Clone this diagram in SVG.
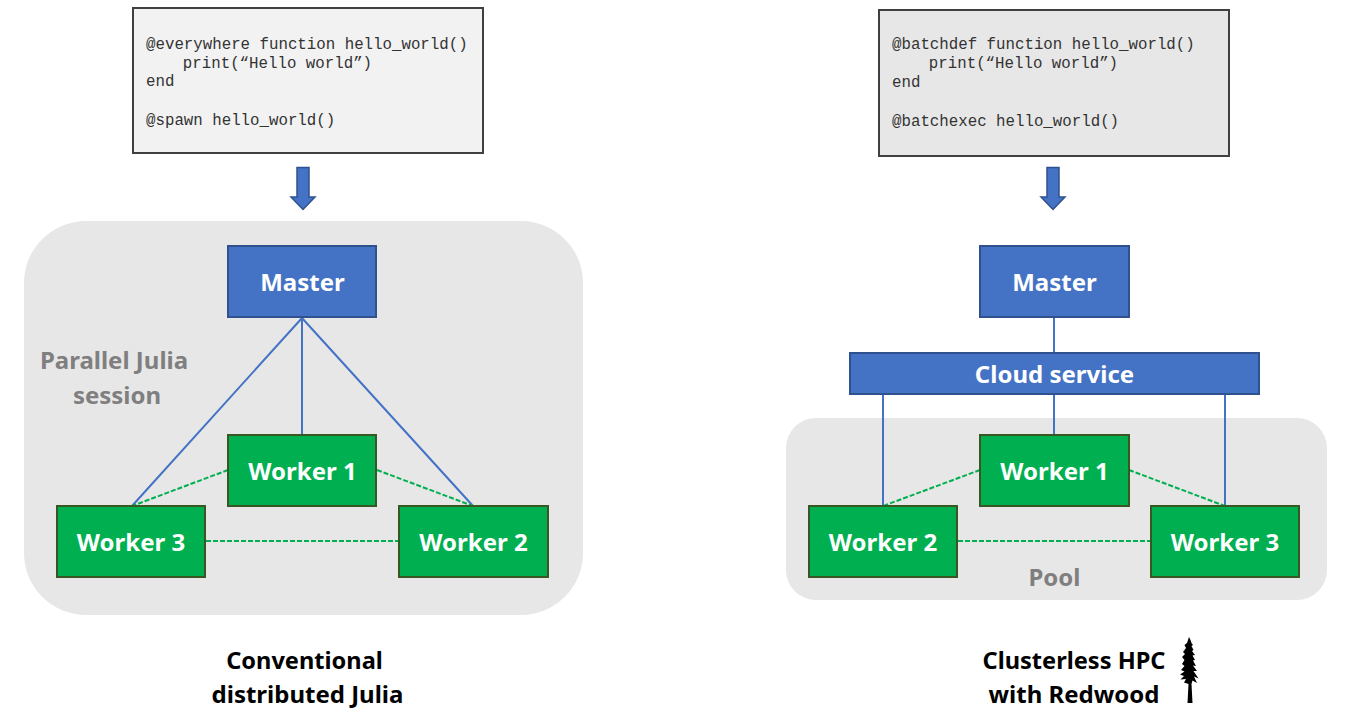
<svg xmlns="http://www.w3.org/2000/svg" width="1348" height="719" viewBox="0 0 1348 719">
<style>
.bg{fill:#e7e7e7}
.code{stroke:#404040;stroke-width:2}
.codetext{font-family:"Liberation Mono",monospace;font-size:15.77px;fill:#333;white-space:pre}
.master{fill:#4472c4;stroke:#2f528f;stroke-width:2}
.worker{fill:#00b050;stroke:#385723;stroke-width:2}
.lbl{font-family:"Noto Sans","Open Sans",sans-serif;font-weight:700;font-size:24px;fill:#fff;text-anchor:middle}
.grey{fill:#7f7f7f}
.cap{fill:#000;font-size:23.6px}
.cap2{fill:#000;font-size:24px}
.blue{stroke:#4472c4;stroke-width:2;fill:none}
.green{stroke:#00b050;stroke-width:2;stroke-dasharray:5 2;fill:none}
.arrow{fill:#4472c4;stroke:#2f528f;stroke-width:1.5}
</style>
<g id="backgrounds">
<rect id="session-bg" class="bg" x="24" y="221" width="559" height="394" rx="62"/>
<rect id="pool-bg" class="bg" x="786" y="418" width="541" height="182" rx="30"/>
</g>
<g id="connectors">
<path class="blue" d="M302 318L132 506M302 318V435M302 318L473 506"/>
<path class="green" d="M228 470L132 506M377 470L473 506M206 541H399"/>
<path class="blue" d="M1054 318V353M883 395V506M1054 395V435M1225 395V506"/>
<path class="green" d="M980 470L883 506M1129 470L1225 506M958 541H1151"/>
</g>
<g id="code-left">
<rect class="code" x="133" y="8" width="350" height="145" fill="#f2f2f2"/>
<text class="codetext" x="146" y="49">@everywhere function hello_world()</text>
<text class="codetext" x="145" y="68">    print(“Hello world”)</text>
<text class="codetext" x="146" y="86">end</text>
<text class="codetext" x="146" y="125">@spawn hello_world()</text>
</g>
<g id="code-right">
<rect class="code" x="879" y="10" width="350" height="146" fill="#e7e7e7"/>
<text class="codetext" x="892" y="49">@batchdef function hello_world()</text>
<text class="codetext" x="891" y="68">    print(“Hello world”)</text>
<text class="codetext" x="892" y="87">end</text>
<text class="codetext" x="892" y="126">@batchexec hello_world()</text>
</g>
<path id="arrow-left" class="arrow" d="M297 167.500H309V197H315L303 209.500L291 197H297Z"/>
<path id="arrow-right" class="arrow" d="M1047 167.500H1059V197H1065L1053 209.500L1041 197H1047Z"/>
<g id="master-left"><rect class="master" x="228" y="246" width="148" height="71"/><text class="lbl" x="302.500" y="290.500">Master</text></g>
<g id="worker1-left"><rect class="worker" x="228" y="435" width="148" height="71"/><text class="lbl" x="302.500" y="479.500">Worker 1</text></g>
<g id="worker3-left"><rect class="worker" x="57" y="506" width="148" height="71"/><text class="lbl" x="131" y="550.500">Worker 3</text></g>
<g id="worker2-left"><rect class="worker" x="399" y="506" width="149" height="71"/><text class="lbl" x="473.500" y="550.500">Worker 2</text></g>
<g id="session-label"><text class="lbl grey" x="114" y="368.500">Parallel Julia</text><text class="lbl grey" x="117" y="403.500">session</text></g>
<g id="master-right"><rect class="master" x="980" y="246" width="149" height="71"/><text class="lbl" x="1054.500" y="290.500">Master</text></g>
<g id="cloud-service"><rect class="master" x="850" y="353" width="409" height="41"/><text class="lbl" x="1054.500" y="382.500">Cloud service</text></g>
<g id="worker1-right"><rect class="worker" x="980" y="435" width="149" height="71"/><text class="lbl" x="1054.500" y="479.500">Worker 1</text></g>
<g id="worker2-right"><rect class="worker" x="809" y="506" width="148" height="71"/><text class="lbl" x="883" y="550.500">Worker 2</text></g>
<g id="worker3-right"><rect class="worker" x="1151" y="506" width="148" height="71"/><text class="lbl" x="1225" y="550.500">Worker 3</text></g>
<g id="pool-label"><text class="lbl grey" x="1054.500" y="585.500">Pool</text></g>
<g id="caption-left"><text class="lbl cap" x="304.500" y="668.500">Conventional</text><text class="lbl cap2" x="307.500" y="702.500">distributed Julia</text></g>
<g id="caption-right"><text class="lbl cap" x="1074" y="668.500">Clusterless HPC</text><text class="lbl cap2" x="1074" y="702.500">with Redwood</text></g>
<path id="redwood-tree" fill="#000" d="M1189 637L1190.500 640L1191.500 643L1193 645L1191.500 646L1193.500 650L1192 651L1195 655L1192.500 655.500L1195 660L1193 660.500L1196 666L1193 665.500L1197 671L1193.500 671L1198.500 678.500L1194 676.500L1197 683L1192.500 680.500L1191.500 684L1192.500 703H1187.500L1188.500 684L1184 682.500L1186 679L1180.500 679.500L1184 676L1180 674.500L1184.500 671.500L1181 670L1184.500 666L1182 664L1184.500 660L1182 657L1185 654L1183 652L1186 648L1184.500 645L1187 643Z"/>
</svg>
